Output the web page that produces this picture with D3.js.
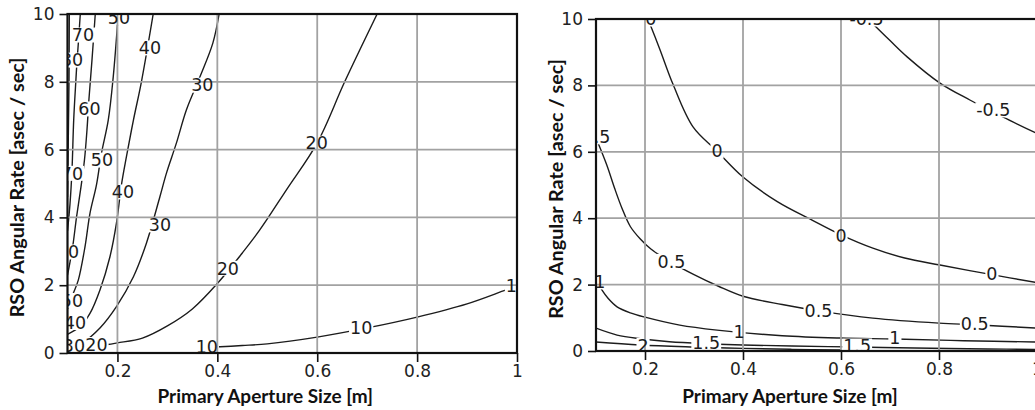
<!DOCTYPE html>
<html><head><meta charset="utf-8">
<script src="https://cdn.jsdelivr.net/npm/d3@7"></script>
<style>body{margin:0;background:#fff} svg{display:block}</style>
</head><body><svg id="c" width="1035" height="410"></svg>
<script>
// ---------- data ----------
const xTicks = [0.2, 0.4, 0.6, 0.8, 1];
const yTicks = [0, 2, 4, 6, 8, 10];
const gridX = [0.2, 0.4, 0.6, 0.8];
const gridY = [2, 4, 6, 8];
const xTitle = "Primary Aperture Size [m]";
const yTitle = "RSO Angular Rate [asec / sec]";

// left panel contour lines: [aperture, rate]
const left80 = [[0.1036,10],[0.1034,9.2],[0.103,8.0],[0.102,6.8],[0.101,5.6],[0.1,4.6]];
const left70 = [[0.1256,10],[0.122,9.2],[0.119,8.6],[0.117,8.1],[0.1124,6.87],[0.109,5.4],[0.105,4.4],[0.1,3.6]];
const left60 = [[0.1556,10],[0.149,8.64],[0.143,7.5],[0.139,6.58],[0.134,5.7],[0.127,4.9],[0.118,4.0],[0.111,3.2],[0.104,2.6],[0.1,2.3]];
const left50 = [[0.2016,10],[0.1916,8.15],[0.1816,6.87],[0.168,5.89],[0.158,4.96],[0.145,4.12],[0.135,3.13],[0.1216,2.15],[0.1116,1.76],[0.1,1.3]];
const left40 = [[0.2716,10],[0.248,8.0],[0.232,6.87],[0.218,5.79],[0.208,4.96],[0.198,3.83],[0.185,2.84],[0.165,1.86],[0.145,1.17],[0.125,0.78],[0.1,0.55]];
const left30 = [[0.4036,10],[0.391,9.14],[0.365,8.14],[0.338,7.17],[0.318,6.19],[0.298,5.3],[0.285,4.61],[0.258,3.24],[0.232,2.25],[0.198,1.37],[0.165,0.74],[0.131,0.32],[0.1,0.2]];
const left20 = [[0.1,0.12],[0.18,0.25],[0.2,0.3],[0.25,0.44],[0.3,0.8],[0.35,1.3],[0.4,2.05],[0.45,2.95],[0.485,3.63],[0.54,4.85],[0.6,6.2],[0.655,8.0],[0.72,10]];
const left10 = [[0.395,0.175],[0.45,0.22],[0.5,0.27],[0.6,0.47],[0.7,0.74],[0.8,1.06],[0.9,1.45],[0.978,1.86],[1.0,1.97]];
const leftLabels = [
  ["80",0.109,8.64],
  ["70",0.131,9.38],["70",0.109,5.3],
  ["60",0.144,7.2],["60",0.101,2.98],
  ["50",0.203,9.9],["50",0.169,5.69],["50",0.109,1.55],
  ["40",0.115,0.9],["40",0.265,9.0],["40",0.211,4.75],
  ["30",0.37,7.9],["30",0.285,3.78],["30",0.113,0.22],
  ["20",0.158,0.25],["20",0.421,2.5],["20",0.599,6.19],
  ["10",0.379,0.18],["10",0.688,0.75],["10",1.0,2.0]
];

// right panel contour lines
const rightM05 = [[0.655,10],[0.7,9.35],[0.735,8.86],[0.802,8.07],[0.863,7.56],[0.93,7.05],[1.0,6.55]];
const right0 = [[0.206,10],[0.23,9.1],[0.257,8.04],[0.298,6.75],[0.347,6.02],[0.4,5.24],[0.47,4.5],[0.54,3.95],[0.6,3.5],[0.665,3.1],[0.73,2.8],[0.802,2.59],[0.908,2.3],[1.0,2.06]];
const right05 = [[0.104,6.27],[0.122,5.6],[0.138,4.9],[0.153,4.3],[0.17,3.75],[0.19,3.38],[0.212,3.07],[0.25,2.7],[0.3,2.3],[0.35,1.95],[0.4,1.65],[0.48,1.4],[0.554,1.21],[0.665,0.99],[0.8,0.84],[0.873,0.79],[1.0,0.69]];
const right1 = [[0.106,2.0],[0.112,1.84],[0.125,1.58],[0.143,1.33],[0.17,1.15],[0.2,1.02],[0.271,0.78],[0.347,0.63],[0.48,0.46],[0.598,0.39],[0.71,0.36],[0.85,0.31],[1.0,0.27]];
const right15 = [[0.1,0.69],[0.143,0.48],[0.19,0.37],[0.25,0.28],[0.325,0.22],[0.4,0.18],[0.5,0.15],[0.633,0.12],[0.75,0.09],[0.9,0.06],[1.0,0.05]];
const right2 = [[0.1,0.27],[0.19,0.18],[0.3,0.12],[0.4,0.08],[0.5,0.05],[0.6,0.03]];
const rightLabels = [
  ["-0.5",0.652,10.0],["-0.5",0.911,7.26],
  ["0",0.212,10.0],["0",0.347,6.02],["0",0.6,3.46],["0",0.908,2.32],
  ["0.5",0.101,6.45],["0.5",0.254,2.7],["0.5",0.554,1.2],["0.5",0.873,0.81],
  ["1",0.108,2.08],["1",0.392,0.57],["1",0.71,0.39],
  ["1.5",0.325,0.24],["1.5",0.633,0.15],
  ["2",0.196,0.17]
];

// ---------- drawing ----------
const svg = d3.select("#c");
const tickFont = "'DejaVu Sans', sans-serif";
const tickSize = 17;
const labelSize = 17.5;
const titleFont = "Lato, 'Open Sans', sans-serif";
const titleSize = 19;

function drawPanel(cfg){
  const x = d3.scaleLinear().domain([0.1, 1]).range(cfg.xr);
  const y = d3.scaleLinear().domain([0, 10]).range(cfg.yr);
  const [x0, x1] = cfg.xr, [yb, yt] = cfg.yr;

  svg.append("defs").append("clipPath").attr("id", cfg.id)
    .append("rect").attr("x", x0).attr("y", yt).attr("width", x1 - x0).attr("height", yb - yt);

  const plot = svg.append("g").attr("clip-path", `url(#${cfg.id})`);
  const line = d3.line().x(d => x(d[0])).y(d => y(d[1])).curve(d3.curveCatmullRom.alpha(0.5));

  plot.append("g").selectAll("path").data(cfg.contours).join("path")
    .attr("d", line).attr("fill", "none").attr("stroke", "#1c1c1c").attr("stroke-width", 1.4);

  const lab = plot.append("g");
  const texts = [];
  cfg.labels.forEach(l => {
    const g = lab.append("g");
    const t = g.append("text").attr("x", x(l[1])).attr("y", y(l[2])).attr("dy", "0.36em")
      .attr("text-anchor", "middle").attr("font-family", tickFont).attr("font-size", labelSize)
      .attr("fill", "#1c1c1c").text(l[0]);
    const bb = t.node().getBBox();
    g.insert("rect", "text").attr("x", bb.x - 1).attr("y", y(l[2]) - 7.5)
      .attr("width", bb.width + 2).attr("height", 15).attr("fill", "#fff");
    texts.push(t);
  });

  // grid above label backgrounds
  const grid = plot.append("g").attr("stroke", "#a2a2a2").attr("stroke-width", 1.8);
  grid.selectAll("line.gx").data(gridX).join("line").attr("class", "gx")
    .attr("x1", d => x(d)).attr("x2", d => x(d)).attr("y1", yb).attr("y2", yt);
  grid.selectAll("line.gy").data(gridY).join("line").attr("class", "gy")
    .attr("y1", d => y(d)).attr("y2", d => y(d)).attr("x1", x0).attr("x2", x1);
  texts.forEach(t => plot.node().appendChild(t.node()));

  // frame
  svg.append("rect").attr("x", x0).attr("y", yt).attr("width", x1 - x0).attr("height", yb - yt)
    .attr("fill", "none").attr("stroke", "#111").attr("stroke-width", 2.2);

  const ya = svg.append("g").attr("transform", `translate(${x0},0)`)
    .call(d3.axisLeft(y).tickValues(yTicks).tickSize(8).tickPadding(5).tickFormat(d => String(d)));
  const xa = svg.append("g").attr("transform", `translate(0,${yb})`)
    .call(d3.axisBottom(x).tickValues(xTicks).tickSize(9).tickPadding(3).tickFormat(d => String(d)));
  [ya, xa].forEach(a => {
    a.select(".domain").remove();
    a.selectAll("line").attr("stroke", "#111").attr("stroke-width", 1.6);
    a.selectAll("text").attr("font-family", tickFont).attr("font-size", tickSize).attr("fill", "#222");
  });

  svg.append("text").attr("x", x(0.5) - 2).attr("y", 403).attr("text-anchor", "middle")
    .attr("font-family", titleFont).attr("font-weight", 700).attr("font-size", titleSize)
    .attr("fill", "#111").text(xTitle);
  svg.append("text").attr("transform", `translate(${cfg.ytx},${(yb + yt) / 2 + 4}) rotate(-90)`)
    .attr("text-anchor", "middle")
    .attr("font-family", titleFont).attr("font-weight", 700).attr("font-size", 19.8)
    .attr("fill", "#111").text(yTitle);
}

drawPanel({
  id: "clipL", xr: [67.5, 517], yr: [353, 14], ytx: 24,
  contours: [left80, left70, left60, left50, left40, left30, left20, left10],
  labels: leftLabels
});
drawPanel({
  id: "clipR", xr: [596, 1037], yr: [351, 19], ytx: 563,
  contours: [rightM05, right0, right05, right1, right15, right2],
  labels: rightLabels
});
</script></body></html>
